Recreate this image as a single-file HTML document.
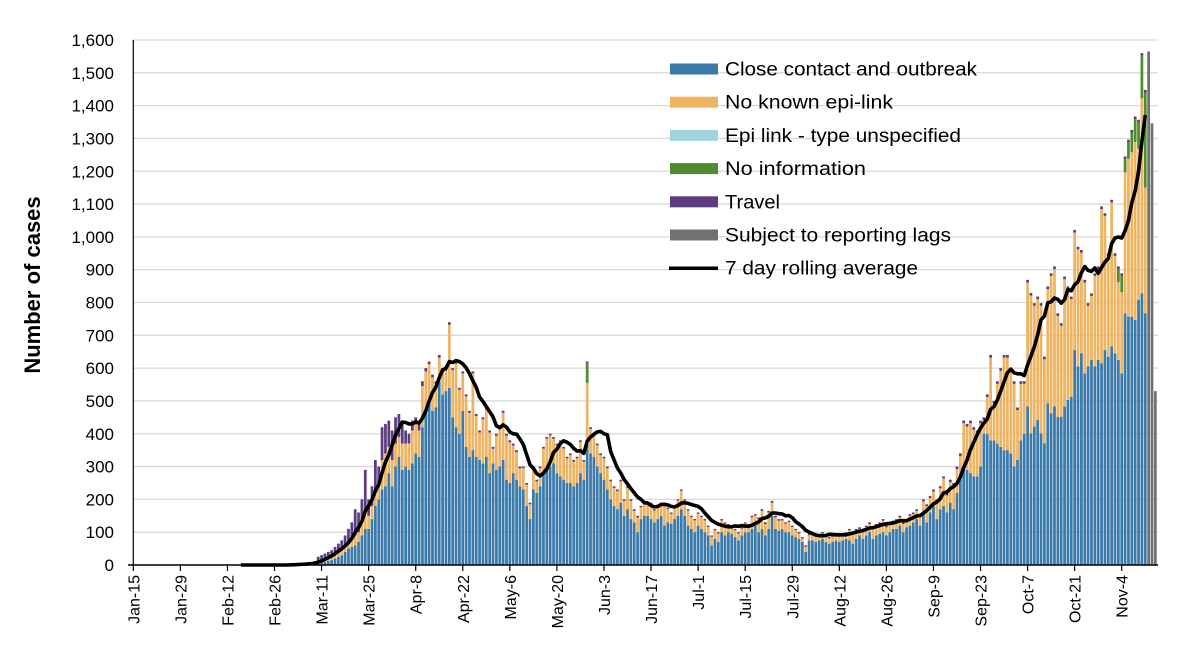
<!DOCTYPE html>
<html><head><meta charset="utf-8"><style>
html,body{margin:0;padding:0;background:#fff;}
svg{display:block;font-family:"Liberation Sans",sans-serif;}
</style></head><body>
<svg id="chart" width="1200" height="666" viewBox="0 0 1200 666" xmlns="http://www.w3.org/2000/svg">
<g id="grid"></g>
<g id="bars"></g>
<g id="axes"></g>
<g id="lineg"></g>
<text transform="translate(40,285) rotate(-90)" text-anchor="middle" font-size="22" font-weight="bold" fill="#000">Number of cases</text>
<g id="legend"></g>
</svg>
<script>
// Data start: Mar 1 (day 46 from Jan 15). Earlier days are zero.
const startDay = 46;
const closeContact = [
0,0,0,0,0,0,0, 2,3,5,8,10,12,15, 20,25,30,40,50,55,60, 70,90,110,110,140,180,200,
230,240,280,240,300,330,290, 300,290,310,340,330,420,470, 500,470,480,560,520,530,540, 450,420,400,470,360,330,350,
330,320,310,330,280,310,290, 300,320,260,250,280,260,240, 230,180,140,230,220,240,280, 290,300,310,280,270,260,250,
250,240,250,280,260,380,340, 330,300,280,260,230,200,180, 170,190,150,170,140,130,100, 140,150,150,140,130,140,150,
120,130,125,140,150,170,150, 120,110,100,120,110,100,90, 60,80,70,100,90,100,95, 85,75,90,100,100,110,120,
100,110,90,110,150,110,105, 110,100,100,90,85,80,70, 40,75,75,70,75,80,70, 65,70,75,70,75,80,75,
65,80,90,80,90,100,80, 90,95,100,90,100,110,110, 120,100,115,120,130,140,120,
160,130,160,180,140,170,180, 160,190,170,220,260,300,290, 280,270,270,300,400,400,380, 380,370,360,350,350,340,300,
320,380,400, 483,401,422,442,401,371,493, 462,483,452,452,483,503,513, 655,605,645,584,605,625,605,
625,615,655,635,666,645,625, 584,767,757,757,747,808,828, 767, 0,0,0];
const noKnownEpiLink = [
0,0,0,0,0,0,0, 1,2,5,5,5,8,10, 10,12,15,15,20,20,30, 30,40,50,40,40,50,50,
90,100,80,80,70,60,80, 70,80,100,90,80,125,120, 112,102,72,72,72,62,192, 144,194,134,114,154,134,234,
124,84,134,144,124,44,104, 114,144,134,124,84,84,54, 65,65,45,65,35,55,75, 95,95,75,85,105,95,75,
85,75,75,95,55,175,75, 65,65,55,65,65,55,55, 55,65,45,65,55,35,45, 36,36,36,46,36,36,36,
61,41,31,36,46,56,46, 46,36,36,36,36,36,26, 26,26,26,36,36,21,21, 21,21,21,26,21,36,31,
40,55,35,50,40,35,30, 26,26,31,26,21,16,11, 16,16,21,16,16,16,16, 16,16,16,16,16,16,31,
30,25,20,20,25,25,30, 30,30,35,25,25,20,25, 25,25,20,30,25,25,25,
34,49,44,44,54,64,84, 52,62,72,72,72,132,132, 152,142,132,132,42,112,252, 112,182,232,282,282,252,252,
152,172,152, 378,420,368,368,389,256,348, 419,419,307,277,388,338,297, 358,357,307,277,185,195,276,
277,470,409,307,439,297,237, 247,430,481,501,542,461,594, 383, 0,0,0];
const travel = [
2,2,3,3,4,4,5, 5,7,15,17,20,20,20, 25,28,30,35,40,55,80, 60,70,130,50,60,90,50,
100,90,80,90,80,70,70, 40,30,30,20,20,15,10, 8,8,8,8,8,8,8, 6,6,6,6,6,6,6,
6,6,6,6,6,6,6, 6,6,6,6,6,6,6, 5,5,5,5,5,5,5, 5,5,5,5,5,5,5,
5,5,5,5,5,5,5, 5,5,5,5,5,5,5, 5,5,5,5,5,5,5, 4,4,4,4,4,4,4,
4,4,4,4,4,4,4, 4,4,4,4,4,4,4, 4,4,4,4,4,4,4, 4,4,4,4,4,4,4,
5,5,5,5,5,5,5, 4,4,4,4,4,4,4, 4,4,4,4,4,4,4, 4,4,4,4,4,4,4,
5,5,5,5,5,5,5, 5,5,5,5,5,5,5, 5,5,5,5,5,5,5,
6,6,6,6,6,6,6, 8,8,8,8,8,8,8, 8,8,8,8,8,8,8, 8,8,8,8,8,8,8,
8,8,8, 8,8,8,8,8,8,8, 8,8,8,8,8,8,8, 8,8,8,8,8,8,8,
8,8,8,8,8,8,8, 8,8,8,8,8,8,8, 8, 0,0,0];
const noInformation = new Array(259).fill(0);
noInformation[89] = 60; // May 29
const noInfoLate = [40, 50,40,50,60,70,80,130, 290]; // Nov 3 .. Nov 11
const epiUnspecified = new Array(259).fill(0);
const reportingLag = new Array(259).fill(0);
const lagValues = [1565, 1346, 530]; // Nov 12-14
const yTicks = [0,100,200,300,400,500,600,700,800,900,1000,1100,1200,1300,1400,1500,1600];
const xTickLabels = ["Jan-15","Jan-29","Feb-12","Feb-26","Mar-11","Mar-25","Apr-8","Apr-22","May-6","May-20","Jun-3","Jun-17","Jul-1","Jul-15","Jul-29","Aug-12","Aug-26","Sep-9","Sep-23","Oct-7","Oct-21","Nov-4"];
const legendLabels = ["Close contact and outbreak","No known epi-link","Epi link - type unspecified","No information","Travel","Subject to reporting lags","7 day rolling average"];

for (let i = 0; i < noInfoLate.length; i++) noInformation[247 + i] = noInfoLate[i];
for (let i = 0; i < lagValues.length; i++) reportingLag[256 + i] = lagValues[i];

const NS = "http://www.w3.org/2000/svg";
const X0 = 133.3, STEP = 3.362, Y0 = 565, YTOP = 40, YMAX = 1600;
const xPos = d => X0 + d * STEP;
const yPos = v => Y0 - v / YMAX * (Y0 - YTOP);
function mk(tag, attrs, parent) {
  const e = document.createElementNS(NS, tag);
  for (const k in attrs) e.setAttribute(k, attrs[k]);
  parent.appendChild(e); return e;
}
const grid = document.getElementById('grid');
const axes = document.getElementById('axes');
yTicks.forEach(v => {
  if (v > 0) {
    const l = mk('line', {x1: 133.3, x2: 1158, y1: yPos(v), y2: yPos(v), stroke: '#d9d9d9', 'stroke-width': 1.3}, grid);
    
    
  }
  const t = mk('text', {x: 114, y: yPos(v) + 6, 'text-anchor': 'end', 'font-size': 17, fill: '#000'}, axes);
  t.textContent = v.toLocaleString('en-US');
  
  
});
const colors = {cc: '#3b7aa9', epi: '#eeb462', unspec: '#9fd3de', noinfo: '#4f8b2f', travel: '#5e3c82', lag: '#707173'};
const bars = document.getElementById('bars');
const BW = 2.75;
const totals = [];
for (let i = 0; i < closeContact.length; i++) {
  const d = startDay + i;
  const segs = [['cc', closeContact[i]], ['epi', noKnownEpiLink[i]], ['unspec', epiUnspecified[i]], ['noinfo', noInformation[i]], ['travel', travel[i]], ['lag', reportingLag[i]]];
  let acc = 0;
  segs.forEach(([k, v]) => {
    if (!v) return;
    const r = mk('rect', {x: xPos(d) - BW / 2, y: yPos(acc + v), width: BW, height: yPos(acc) - yPos(acc + v), fill: colors[k]}, bars);
    
    
    acc += v;
  });
  totals.push(closeContact[i] + noKnownEpiLink[i] + epiUnspecified[i] + noInformation[i] + travel[i]);
}
const ya = mk('line', {x1: 133.3, x2: 133.3, y1: 40, y2: 565, stroke: '#000', 'stroke-width': 1.2}, axes);


const xa = mk('line', {x1: 128, x2: 1158, y1: 565, y2: 565, stroke: '#000', 'stroke-width': 1.5}, axes);


xTickLabels.forEach((lab, i) => {
  const x = xPos(i * 14);
  const tk = mk('line', {x1: x, x2: x, y1: 565, y2: 571, stroke: '#000', 'stroke-width': 1.2}, axes);
  
  
  const t = mk('text', {transform: 'translate(' + (x + 6) + ',575) rotate(-90)', 'text-anchor': 'end', 'font-size': 16, fill: '#000'}, axes);
  t.textContent = lab;
  
  
});
let pts = [];
const all = new Array(startDay).fill(0).concat(totals);
const lastDay = startDay + 255;
for (let d = startDay - 14; d <= lastDay; d++) {
  let s = 0;
  for (let k = 0; k < 7; k++) s += all[d - k] || 0;
  pts.push(xPos(d).toFixed(1) + ',' + yPos(s / 7).toFixed(1));
}
const pl = mk('polyline', {points: pts.join(' '), fill: 'none', stroke: '#000', 'stroke-width': 3.6, 'stroke-linejoin': 'round'}, document.getElementById('lineg'));


const lg = document.getElementById('legend');
const legColors = [colors.cc, colors.epi, colors.unspec, colors.noinfo, colors.travel, colors.lag, null];
const legWidths = [252, 168, 236, 141, 55, 226, 193];
legendLabels.forEach((lab, i) => {
  const cy = 69 + i * 33.2;
  const g = mk('g', {}, lg);
  
  
  if (legColors[i]) mk('rect', {x: 670, y: cy - 5.5, width: 48, height: 11, fill: legColors[i]}, g);
  else mk('line', {x1: 669, x2: 718, y1: cy, y2: cy, stroke: '#000', 'stroke-width': 3.5}, g);
  const t = mk('text', {x: 725, y: cy + 6.5, 'font-size': 19, fill: '#000', textLength: legWidths[i], lengthAdjust: 'spacingAndGlyphs'}, g);
  t.textContent = lab;
});
</script>
</body></html>
